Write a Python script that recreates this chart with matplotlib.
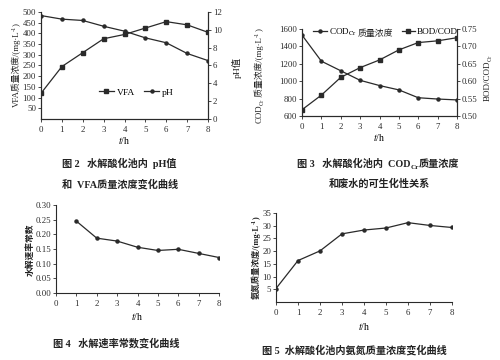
import matplotlib
matplotlib.use("Agg")
import matplotlib.pyplot as plt
import numpy as np

plt.rcParams['font.family'] = ['Liberation Serif', 'Noto Sans CJK SC', 'DejaVu Serif']
plt.rcParams['mathtext.fontset'] = 'stix'
plt.rcParams['axes.unicode_minus'] = False

# 图2: VFA 与 pH
t = [0, 1, 2, 3, 4, 5, 6, 7, 8]
vfa = [120, 245, 310, 375, 395, 425, 455, 440, 405]
ph = [11.6, 11.2, 11.05, 10.4, 9.85, 9.1, 8.55, 7.35, 6.55]

# 图3: COD 与 BOD/COD
cod = [1530, 1230, 1120, 1010, 950, 900, 810, 795, 785]
bod_cod = [0.518, 0.560, 0.611, 0.639, 0.661, 0.690, 0.711, 0.716, 0.725]

# 图4: 水解速率常数
t4 = [1, 2, 3, 4, 5, 6, 7, 8]
k_hyd = [0.245, 0.187, 0.177, 0.156, 0.145, 0.149, 0.135, 0.121]

# 图5: 氨氮
nh3 = [5.3, 16.3, 20.1, 26.8, 28.3, 29.1, 31.2, 30.1, 29.3]

W, H = 500, 360
fig = plt.figure(figsize=(5, 3.6), dpi=100)
fig.patch.set_facecolor('white')
c = '#2a2a2a'
fs = 6.3
R = fig.canvas.get_renderer()


def box(l, r, top, bot):
    return [l / W, 1 - bot / H, (r - l) / W, (bot - top) / H]


def style(ax, right=False):
    ax.spines['top'].set_visible(False)
    if not right:
        ax.spines['right'].set_visible(False)
    for s in ax.spines.values():
        s.set_color(c)
        s.set_linewidth(0.8)
    ax.tick_params(labelsize=fs, length=2, width=0.6, colors=c, pad=1.5)
    ax.tick_params(axis='x', pad=3)
    ax.set_xlim(0, 8)
    ax.set_xticks(range(9))


def chain(x, y, parts, rot=0, weight='normal'):
    # 把几段文字首尾相接排成一行(用来拼下标, 避免中文进 mathtext)
    objs = []
    for s, size, sh in parts:
        o = fig.text(0, 0, s, transform=None, fontsize=size, rotation=rot,
                     rotation_mode='anchor', ha='left', va='baseline',
                     color='#222222', fontweight=weight)
        objs.append((o, sh))
    lens = []
    for o, _ in objs:
        bb = o.get_window_extent(R)
        lens.append(bb.height if rot else bb.width)
    total = sum(lens)
    X, Y = x, H - y
    pos = (X if rot == 0 else Y) - total / 2
    for (o, sh), L in zip(objs, lens):
        if rot == 0:
            o.set_position((pos, Y + sh))
        else:
            o.set_position((X - sh, pos))
        pos += L


def cap(x, y, s):
    fig.text(x / W, 1 - y / H, s, ha='center', va='center', fontsize=7.3,
             color='#222222', fontweight='bold')


# ---- 图2
ax1 = fig.add_axes(box(41, 208, 12, 119))
ax1b = ax1.twinx()
style(ax1, right=True)
style(ax1b, right=True)
ax1.plot(t, vfa, '-s', color=c, lw=0.9, ms=3.2, label='VFA')
ax1b.plot(t, ph, '-o', color=c, lw=0.9, ms=2.2, label='pH')
ax1.set_ylim(0, 500)
ax1.set_yticks(range(50, 501, 50))
ax1b.set_ylim(0, 12)
ax1b.set_yticks(range(0, 13, 2))
ax1.set_xlabel('$t$/h', fontsize=7, labelpad=1)
chain(19, 65, [('VFA质量浓度/(mg·L', 6.3, 0), ('-1', 4.5, 3), (')', 6.3, 0)], rot=90)
chain(240, 67, [('pH值', 6.8, 0)], rot=90)
h1, l1 = ax1.get_legend_handles_labels()
h2, l2 = ax1b.get_legend_handles_labels()
ax1.legend(h1 + h2, l1 + l2, loc='center', bbox_to_anchor=(0.57, 0.25), ncol=2,
           frameon=False, fontsize=6.8, handlelength=1.6, columnspacing=1.0, handletextpad=0.3)
cap(119, 163, '图 2   水解酸化池内  pH值')
cap(120, 184, '和  VFA质量浓度变化曲线')

# ---- 图3
ax2 = fig.add_axes(box(302, 457, 29, 116))
ax2b = ax2.twinx()
style(ax2, right=True)
style(ax2b, right=True)
ax2.plot(t, cod, '-o', color=c, lw=0.9, ms=2.2, label='COD$_{\\rm Cr}$')
ax2b.plot(t, bod_cod, '-s', color=c, lw=0.9, ms=3.2, label='BOD/COD')
ax2.set_ylim(600, 1600)
ax2.set_yticks(range(600, 1601, 200))
ax2b.set_ylim(0.5, 0.75)
ax2b.set_yticks(np.arange(0.50, 0.751, 0.05))
ax2b.set_yticklabels(['0.50', '0.55', '0.60', '0.65', '0.70', '0.75'])
ax2.set_xlabel('$t$/h', fontsize=7, labelpad=1)
chain(262, 76, [('COD', 6.3, 0), ('Cr', 4.5, -1.5), (' 质量浓度/(mg·L', 6.3, 0),
                ('-1', 4.5, 3), (')', 6.3, 0)], rot=90)
chain(490, 78, [('BOD/COD', 6.5, 0), ('Cr', 4.5, -1.5)], rot=90)
h1, l1 = ax2.get_legend_handles_labels()
h2, l2 = ax2b.get_legend_handles_labels()
leg = ax2.legend(h1 + h2, l1 + l2, loc='center', bbox_to_anchor=(0.54, 0.965), ncol=2,
                 frameon=False, fontsize=6.6, handlelength=1.5, columnspacing=4.9,
                 handletextpad=0.2)
fig.canvas.draw()
bb = leg.get_texts()[0].get_window_extent(R)
fig.text(bb.x1 + 1, bb.y0 + 1.5, '质量浓度', transform=None, fontsize=6.4,
         ha='left', va='baseline', color='#222222')
chain(378, 167, [('图 3   水解酸化池内  COD', 7.3, 0), ('Cr', 5.2, -2), ('质量浓度', 7.3, 0)],
      weight='bold')
cap(379, 184, '和废水的可生化性关系')

# ---- 图4
ax3 = fig.add_axes(box(56, 219, 205, 293))
style(ax3)
ax3.plot(t4, k_hyd, '-o', color=c, lw=0.9, ms=2.2)
ax3.set_ylim(0, 0.30)
ax3.set_yticks(np.arange(0, 0.301, 0.05))
ax3.set_yticklabels(['0.00', '0.05', '0.10', '0.15', '0.20', '0.25', '0.30'])
ax3.set_xlabel('$t$/h', fontsize=7, labelpad=2)
chain(33, 250, [('水解速率常数', 6.3, 0)], rot=90, weight='bold')
cap(116, 343, '图 4   水解速率常数变化曲线')

# ---- 图5
ax4 = fig.add_axes(box(276, 452, 213, 302))
style(ax4)
ax4.plot(t, nh3, '-o', color=c, lw=0.9, ms=2.2)
ax4.set_ylim(0, 35)
ax4.set_yticks(range(5, 36, 5))
ax4.set_xlabel('$t$/h', fontsize=7, labelpad=3)
chain(259, 258, [('氨氮质量浓度/(mg·L', 6.0, 0), ('-1', 4.3, 3), (')', 6.0, 0)],
      rot=90, weight='bold')
cap(354, 350, '图 5  水解酸化池内氨氮质量浓度变化曲线')

fig.savefig('out.png', dpi=100, facecolor='white')
